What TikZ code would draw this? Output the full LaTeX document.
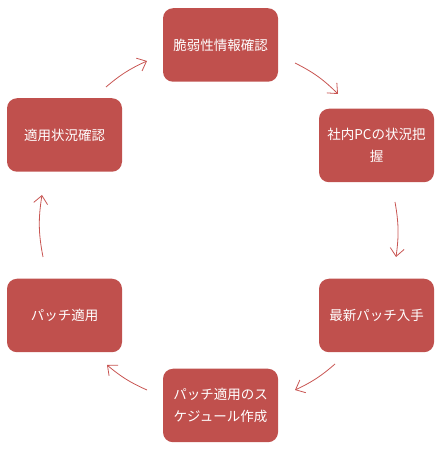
\documentclass[tikz,border=0pt]{standalone}
\usepackage{fontspec}
\setmainfont{Noto Sans CJK JP}
\usetikzlibrary{arrows.meta}
\definecolor{boxred}{RGB}{192,80,77}
\definecolor{arrred}{RGB}{200,85,82}
\begin{document}
\begin{tikzpicture}[x=1pt,y=1pt,
  stepbox/.style={fill=boxred,draw=none,rounded corners=10pt,minimum width=115pt,minimum height=73.5pt,
    inner sep=0pt,text=white,align=center,font=\fontsize{13.5pt}{22pt}\selectfont},
  arr/.style={draw=arrred,line width=0.8pt,-{Straight Barb[length=8pt,width=14pt,line width=0.8pt]}}]
\useasboundingbox (0,0) rectangle (441,449);
\node[stepbox] (t) at (220.5,404) {脆弱性情報確認};
\node[stepbox] (r1) at (376.5,303.5) {社内PCの状況把\\握};
\node[stepbox] (r2) at (376.5,133.5) {最新パッチ入手};
\node[stepbox] (b) at (220.5,43.5) {パッチ適用のス\\ケジュール作成};
\node[stepbox] (l2) at (64.5,133.5) {パッチ適用};
\node[stepbox] (l1) at (64.5,314) {適用状況確認};
\coordinate (a1s) at (295,386); \coordinate (a1e) at (338,355);
\coordinate (a2s) at (395,247); \coordinate (a2e) at (396,192);
\coordinate (a3s) at (335,85);  \coordinate (a3e) at (295,59);
\coordinate (a4s) at (147,59);  \coordinate (a4e) at (107,84);
\coordinate (a5s) at (43,192);  \coordinate (a5e) at (42,254);
\coordinate (a6s) at (106,362); \coordinate (a6e) at (147,388);
\draw[arr] (a1s) to[bend left=9] (a1e);
\draw[arr] (a2s) to[bend left=9] (a2e);
\draw[arr] (a3s) to[bend left=8] (a3e);
\draw[arr] (a4s) to[bend left=8] (a4e);
\draw[arr] (a5s) to[bend left=10] (a5e);
\draw[arr] (a6s) to[bend left=8] (a6e);
\end{tikzpicture}
\end{document}
